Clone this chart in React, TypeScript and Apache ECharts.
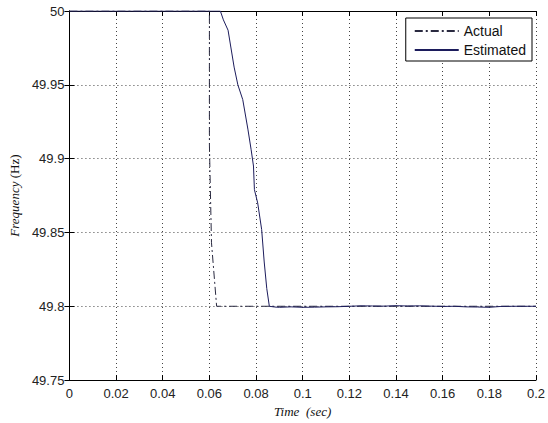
import React, { useEffect, useRef } from "react";
import * as echarts from "echarts";

const xTicks = [0, 0.02, 0.04, 0.06, 0.08, 0.1, 0.12, 0.14, 0.16, 0.18, 0.2];
const yTicks = [49.75, 49.8, 49.85, 49.9, 49.95, 50];

const actualT = [0, 0.06, 0.06, 0.0609, 0.0631, 0.2];
const actualF = [50, 50, 49.91, 49.843, 49.8, 49.8];

const estT = [
  0, 0.0647, 0.066, 0.068, 0.0706, 0.0722, 0.0743, 0.0765, 0.0779, 0.0789, 0.0793,
  0.0807, 0.0824, 0.0835, 0.0846, 0.0857, 0.088, 0.09, 0.095, 0.1, 0.105, 0.11,
  0.115, 0.12, 0.125, 0.13, 0.135, 0.14, 0.145, 0.15, 0.155, 0.16, 0.165, 0.17,
  0.175, 0.18, 0.185, 0.19, 0.2,
];
const estF = [
  50, 50, 49.994, 49.987, 49.962, 49.95, 49.94, 49.92, 49.906, 49.895, 49.879,
  49.87, 49.852, 49.83, 49.812, 49.8, 49.7995, 49.7993, 49.7996, 49.7993, 49.7994,
  49.7996, 49.7997, 49.8, 49.8003, 49.8002, 49.8001, 49.8004, 49.8002, 49.8003,
  49.8001, 49.7999, 49.8, 49.7996, 49.7995, 49.7993, 49.7999, 49.8, 49.8,
];

const fmt = (v: number) => String(parseFloat(v.toFixed(3)));

export default function App() {
  const ref = useRef<HTMLDivElement>(null);
  useEffect(() => {
    if (!ref.current) return;
    const chart = echarts.init(ref.current, null, { renderer: "svg" });
    const labelFont = { fontFamily: "Liberation Sans", fontSize: 13, color: "#222" };
    const xBase = {
      type: "value" as const,
      min: xTicks[0],
      max: xTicks[xTicks.length - 1],
      interval: 0.02,
      axisLine: { show: true, lineStyle: { color: "#000", width: 1 } },
      axisTick: { show: true, inside: true, length: 5, lineStyle: { color: "#000" } },
    };
    const yBase = {
      type: "value" as const,
      min: yTicks[0],
      max: yTicks[yTicks.length - 1],
      interval: 0.05,
      axisLine: { show: true, lineStyle: { color: "#000", width: 1 } },
      axisTick: { show: true, inside: true, length: 5, lineStyle: { color: "#000" } },
    };
    chart.setOption({
      animation: false,
      backgroundColor: "#fff",
      grid: { left: 67, right: 11, top: 11, bottom: 41, show: false },
      legend: {
        orient: "vertical",
        right: 16,
        top: 18,
        padding: [6, 6, 4, 8],
        borderColor: "#000",
        borderWidth: 1,
        backgroundColor: "#fff",
        itemWidth: 44,
        itemHeight: 14,
        itemGap: 5,
        itemStyle: { color: "rgba(0,0,0,0)", borderColor: "rgba(0,0,0,0)", borderWidth: 0 },
        textStyle: { fontFamily: "Liberation Sans", fontSize: 14, color: "#111" },
        data: ["Actual", "Estimated"],
      },
      xAxis: [
        {
          ...xBase,
          position: "bottom",
          axisLabel: { ...labelFont, margin: 7, formatter: fmt },
          splitLine: { show: true, lineStyle: { color: "#444", type: [1, 3], width: 1 } },
          name: "{i|Time}  {i|(sec)}",
          nameLocation: "middle",
          nameGap: 24,
          nameTextStyle: {
            rich: {
              i: { fontFamily: "Liberation Serif", fontStyle: "italic", fontSize: 13, color: "#111" },
            },
          },
        },
        {
          ...xBase,
          position: "top",
          axisLabel: { show: false },
          splitLine: { show: false },
        },
      ],
      yAxis: [
        {
          ...yBase,
          position: "left",
          axisLabel: { ...labelFont, margin: 5, formatter: fmt },
          splitLine: { show: true, lineStyle: { color: "#444", type: [1, 3], width: 1 } },
          name: "{i|Frequency} {r|(Hz)}",
          nameLocation: "middle",
          nameGap: 46,
          nameTextStyle: {
            rich: {
              i: { fontFamily: "Liberation Serif", fontStyle: "italic", fontSize: 13, color: "#111" },
              r: { fontFamily: "Liberation Serif", fontSize: 13, color: "#111" },
            },
          },
        },
        {
          ...yBase,
          position: "right",
          axisLabel: { show: false },
          splitLine: { show: false },
        },
      ],
      series: [
        {
          name: "Actual",
          type: "line",
          showSymbol: false,
          symbol: "none",
          data: actualT.map((t, i) => [t, actualF[i]]),
          lineStyle: { color: "#2a2a40", width: 1, type: [8, 3, 2, 3] },
          itemStyle: { color: "#2a2a40" },
          z: 3,
        },
        {
          name: "Estimated",
          type: "line",
          showSymbol: false,
          symbol: "none",
          data: estT.map((t, i) => [t, estF[i]]),
          lineStyle: { color: "#1c1c5c", width: 1 },
          itemStyle: { color: "#1c1c5c" },
          z: 4,
        },
      ],
    });
    return () => chart.dispose();
  }, []);
  return <div ref={ref} style={{ width: 548, height: 423, position: "absolute", left: 0, top: 0 }} />;
}
